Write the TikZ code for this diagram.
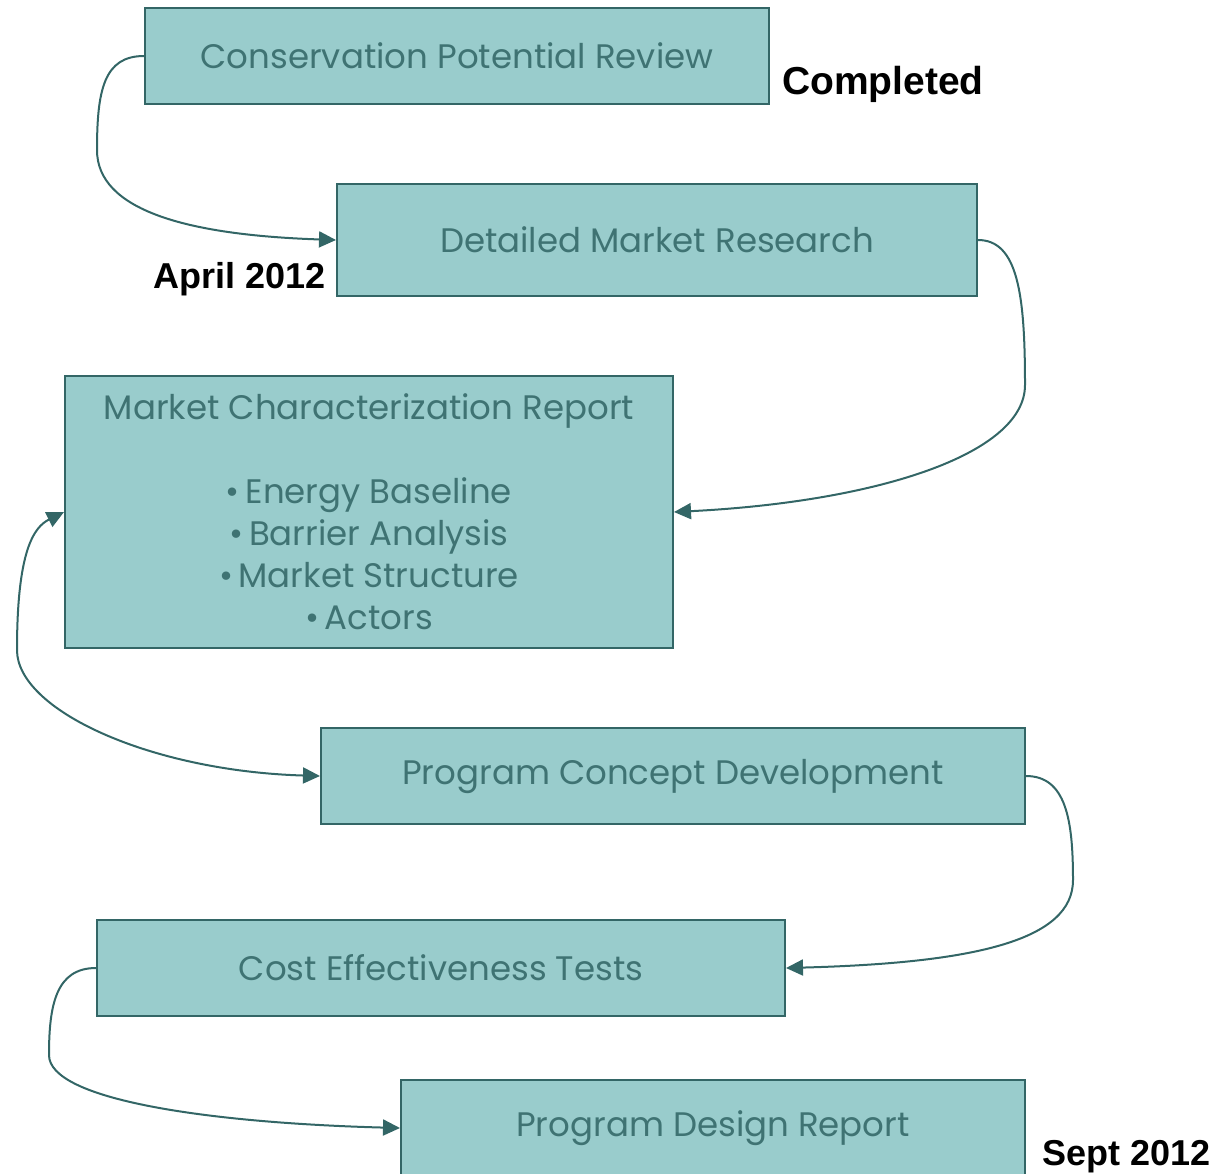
\documentclass[tikz,border=0pt]{standalone}
\usepackage{fontspec}
\setmainfont{Poppins}
\newfontfamily\labelfont{Liberation Sans}
\usepackage{tikz}
\usetikzlibrary{arrows.meta}
\definecolor{boxfill}{HTML}{99CCCC}
\definecolor{boxline}{HTML}{336666}
\definecolor{boxtext}{HTML}{3F7373}

\begin{document}
\begin{tikzpicture}[x=1pt, y=-1pt,
stage/.style={draw=boxline, fill=boxfill, line width=2pt, inner sep=0pt, text=boxtext, font=\fontsize{34}{42}\selectfont, align=center},
when/.style={font=\labelfont\bfseries\fontsize{36}{40}\selectfont, text=black, inner sep=0pt},
link/.style={draw=boxline, line width=2pt, -{Triangle[length=17pt,width=16pt]}}
]
\useasboundingbox (0,0) rectangle (1220,1173);

\node[stage, minimum width=624pt, minimum height=96pt] (review) at (457,56) {Conservation Potential Review};
\node[stage, minimum width=640pt, minimum height=112pt] (research) at (657,240) {Detailed Market Research};
\node[stage, minimum width=608pt, minimum height=272pt] (report) at (369,512) {Market Characterization Report\\[42pt]
    •\,Energy Baseline\\ •\,Barrier Analysis\\ •\,Market Structure\\ •\,Actors};
\node[stage, minimum width=704pt, minimum height=96pt] (concept) at (673,776) {Program Concept Development};
\node[stage, minimum width=688pt, minimum height=96pt] (tests) at (441,968) {Cost Effectiveness Tests};
\node[stage, minimum width=624pt, minimum height=96pt] (design) at (713,1128) {Program Design Report};

\node[when, font=\labelfont\bfseries\fontsize{39}{42}\selectfont] (done) at (883,84) {Completed};
\node[when] (april) at (240,279) {April 2012};
\node[when] (sept) at (1127,1157) {Sept 2012};

% bends of the curved connectors
\coordinate (bendA) at (97,150);
\coordinate (bendB) at (1025,385);
\coordinate (bendC) at (17,650);
\coordinate (bendD) at (1073,880);
\coordinate (bendE) at (49,1055);

\draw[link] (review.west) .. controls +(-40,0) and +(0,-60) .. (bendA)
    .. controls +(0,60) and +(-150,-5) .. (research.west);
\draw[link] (research.east) .. controls +(40,0) and +(0,-90) .. (bendB)
    .. controls +(0,70) and +(200,-10) .. (report.east);
\draw[link, {Triangle[length=17pt,width=16pt]}-{Triangle[length=17pt,width=16pt]}] (report.west) .. controls +(-30,15) and +(0,-100) .. (bendC)
    .. controls +(0,60) and +(-170,-5) .. (concept.west);
\draw[link] (concept.east) .. controls +(40,0) and +(0,-60) .. (bendD)
    .. controls +(0,60) and +(190,-5) .. (tests.east);
\draw[link] (tests.west) .. controls +(-40,0) and +(0,-50) .. (bendE)
    .. controls +(0,45) and +(-190,-5) .. (design.west);
\end{tikzpicture}
\end{document}
